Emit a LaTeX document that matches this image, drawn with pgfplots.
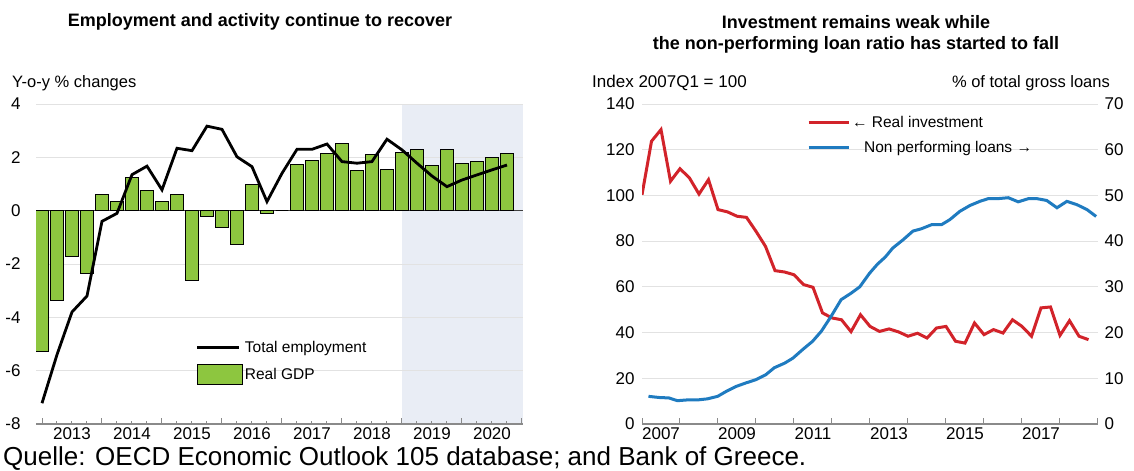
\documentclass[border=0pt]{standalone}
\usepackage{fontspec}
\setmainfont{Liberation Sans}
\usepackage{pgfplots}
\pgfplotsset{compat=1.18}
\definecolor{gdp}{HTML}{8DC63F}
\definecolor{shade}{HTML}{E9EDF5}
\definecolor{invred}{HTML}{D2232A}
\definecolor{nplblue}{HTML}{1F7BC0}
\definecolor{gridc}{HTML}{E2E2E2}
\definecolor{axisc}{HTML}{8A8A8A}
\newcommand{\tfont}{\fontsize{17}{17}\selectfont}
\pgfplotsset{
  common/.style={
    scale only axis, anchor=south west,
    axis x line*=bottom, axis y line*=left,
    y axis line style={draw=none},
    x axis line style={draw=axisc, line width=1.3pt},
    ytick style={draw=none},
    ymajorgrids, grid style={draw=gridc, line width=1pt},
    tick align=inside,
    xtick style={draw=axisc, line width=1pt},
    major tick length=6pt, minor tick length=3.5pt,
    minor x tick num=3,
    xticklabels={},
    extra x tick style={major tick length=0pt},
    ticklabel style={font=\tfont},
    /pgf/number format/assume math mode=true,
  },
  legblack/.style={legend image code/.code={\draw[black, line width=2.8pt] (0pt,0pt) -- (42pt,0pt);}},
  legbox/.style={legend image code/.code={\draw[fill=gdp, draw=black, line width=1pt] (0pt,-10pt) rectangle (45pt,10pt);}},
  legred/.style={legend image code/.code={\draw[invred, line width=3pt] (0pt,0pt) -- (40pt,0pt);}},
  legblue/.style={legend image code/.code={\draw[nplblue, line width=3pt] (0pt,0pt) -- (40pt,0pt);}},
}
\begin{document}
\begin{tikzpicture}
\path (0pt,0pt) rectangle (1134pt,470pt);
% titles
\node[font=\fontsize{18}{18}\selectfont\bfseries] at (260pt,448pt) {Employment and activity continue to recover};
\node[font=\fontsize{16.5}{16.5}\selectfont, anchor=west, inner sep=0pt] at (12pt,387pt) {Y-o-y \% changes};
\node[font=\fontsize{18}{18}\selectfont\bfseries] at (856pt,448pt) {Investment remains weak while};
\node[font=\fontsize{18}{18}\selectfont\bfseries] at (856pt,425pt) {the non-performing loan ratio has started to fall};
\node[font=\fontsize{17}{17}\selectfont, anchor=west, inner sep=0pt] at (592pt,387pt) {Index 2007Q1 = 100};
\node[font=\fontsize{16.5}{16.5}\selectfont, anchor=east, inner sep=0pt] at (1110pt,387pt) {\% of total gross loans};
\node[font=\fontsize{26}{26}\selectfont, anchor=west, inner sep=0pt] at (3pt,11pt) {Quelle: OECD Economic Outlook 105 database; and Bank of Greece.};

% ---------- left panel ----------
\begin{axis}[common, set layers,
  at={(36pt,46pt)}, width=487pt, height=320pt,
  xmin=-0.4, xmax=32.07, ymin=-8, ymax=4,
  ytick={-8,-6,...,4},
  yticklabel style={xshift=-12pt},
  xtick={0,4,...,32},
  extra x ticks={2,6,...,30},
  extra x tick labels={2013,2014,2015,2016,2017,2018,2019,2020},
  legend style={at={(0.322,0.271)}, anchor=north west, draw=none, fill=none,
    font=\fontsize{15.5}{15.5}\selectfont, row sep=8pt, cells={anchor=west}},
]
\addplot[fill=shade, draw=none, forget plot, on layer=axis background] coordinates {(24,-8) (24,4) (32.07,4) (32.07,-8)} -- cycle;
\addlegendimage{legblack}
\addlegendentry{Total employment}
\addlegendimage{legbox}
\addlegendentry{Real GDP}
\draw[black!75, line width=1.2pt] (axis cs:-0.4,0) -- (axis cs:32.07,0);
\addplot[ybar, bar width=0.85, fill=gdp, draw=black, line width=1pt, forget plot] coordinates {
(0,-5.29) (1,-3.35) (2,-1.72) (3,-2.35) (4,0.59) (5,0.34) (6,1.25) (7,0.75)
(8,0.34) (9,0.59) (10,-2.62) (11,-0.22) (12,-0.62) (13,-1.25) (14,0.99) (15,-0.1)
(16,0.0) (17,1.75) (18,1.9) (19,2.15) (20,2.52) (21,1.52) (22,2.09) (23,1.55)
(24,2.17) (25,2.3) (26,1.71) (27,2.3) (28,1.77) (29,1.86) (30,1.99) (31,2.15)
};
\addplot[black, line width=2.8pt, forget plot] coordinates {
(0,-7.22) (1,-5.4) (2,-3.8) (3,-3.2) (4,-0.4) (5,-0.1) (6,1.35) (7,1.67)
(8,0.78) (9,2.34) (10,2.25) (11,3.17) (12,3.05) (13,2.02) (14,1.65) (15,0.34)
(16,1.4) (17,2.3) (18,2.3) (19,2.5) (20,1.84) (21,1.78) (22,1.84) (23,2.68)
(24,2.28) (25,1.78) (26,1.3) (27,0.9) (28,1.15) (29,1.34) (30,1.53) (31,1.71)
};
\end{axis}

% ---------- right panel ----------
\begin{axis}[common,
  at={(642pt,46pt)}, width=456pt, height=320pt,
  xmin=2007, xmax=2019, ymin=0, ymax=140,
  ytick={0,20,...,140},
  yticklabel style={xshift=-4pt},
  xtick={2007,...,2019},
  extra x ticks={2007.5,2009.5,...,2017.5},
  extra x tick labels={2007,2009,2011,2013,2015,2017},
]
\addplot[invred, line width=3pt] coordinates {
(2007.00,100.3) (2007.25,123.7) (2007.50,128.8) (2007.75,106.2)
(2008.00,111.7) (2008.25,107.6) (2008.50,100.6) (2008.75,106.9)
(2009.00,93.8) (2009.25,92.8) (2009.50,90.9) (2009.75,90.4)
(2010.00,84.3) (2010.25,77.7) (2010.50,67.1) (2010.75,66.5)
(2011.00,65.3) (2011.25,61.0) (2011.50,59.8) (2011.75,48.6)
(2012.00,46.4) (2012.25,45.6) (2012.50,40.4) (2012.75,47.8)
(2013.00,42.7) (2013.25,40.5) (2013.50,41.6) (2013.75,40.3)
(2014.00,38.4) (2014.25,39.7) (2014.50,37.6) (2014.75,42.0)
(2015.00,42.7) (2015.25,36.2) (2015.50,35.4) (2015.75,44.2)
(2016.00,39.1) (2016.25,41.3) (2016.50,39.8) (2016.75,45.6)
(2017.00,42.7) (2017.25,38.4) (2017.50,50.8) (2017.75,51.2)
(2018.00,38.8) (2018.25,45.2) (2018.50,38.4) (2018.75,36.9)
};
\end{axis}
\begin{axis}[
  scale only axis, anchor=south west,
  at={(642pt,46pt)}, width=456pt, height=320pt,
  xmin=2007, xmax=2019, ymin=0, ymax=70,
  axis x line=none, axis y line*=right,
  y axis line style={draw=none}, ytick style={draw=none},
  ytick={0,10,...,70},
  yticklabel style={font=\tfont, xshift=3pt},
  /pgf/number format/assume math mode=true,
  legend style={at={(0.355,0.975)}, anchor=north west, draw=none, fill=none,
    font=\fontsize{15.5}{15.5}\selectfont, row sep=8pt, cells={anchor=west}},
]
\addlegendimage{legred}
\addlegendentry{← Real investment}
\addplot[nplblue, line width=3pt, legblue] coordinates {
(2007.17,6.05) (2007.45,5.8) (2007.71,5.7) (2007.93,5.1) (2008.24,5.3) (2008.50,5.3)
(2008.72,5.5) (2008.99,6.05) (2009.21,7.1) (2009.47,8.2) (2009.74,9.0) (2010.00,9.7)
(2010.26,10.8) (2010.48,12.3) (2010.75,13.3) (2010.97,14.4) (2011.23,16.3) (2011.49,18.1)
(2011.72,20.3) (2011.98,23.6) (2012.24,27.2) (2012.50,28.6) (2012.73,30.0) (2012.99,33.0)
(2013.20,35.0) (2013.40,36.5) (2013.60,38.5) (2013.87,40.3) (2014.13,42.2) (2014.35,42.7)
(2014.62,43.6) (2014.88,43.6) (2015.10,44.7) (2015.36,46.5) (2015.63,47.8) (2015.89,48.7)
(2016.11,49.3) (2016.37,49.3) (2016.64,49.5) (2016.90,48.6) (2017.17,49.3) (2017.39,49.3)
(2017.65,48.9) (2017.92,47.3) (2018.18,48.7) (2018.44,48.0) (2018.71,46.9) (2018.95,45.4)
};
\addlegendentry{\hspace{12pt}Non performing loans →}
\end{axis}
\end{tikzpicture}
\end{document}
